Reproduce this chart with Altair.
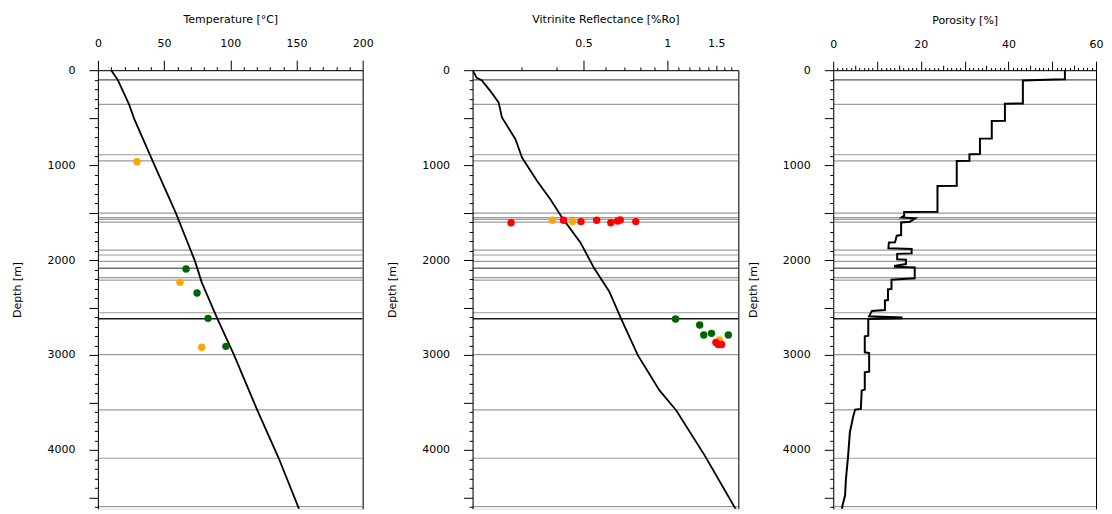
import altair as alt
import pandas as pd

# ---------------- data ----------------
# formation tops (depth m) and their category
top_depth = [102, 361, 891, 955, 1505, 1554, 1572, 1600, 1895, 1947, 2014,
             2086, 2186, 2211, 2555, 2618, 2997, 3579, 4088, 4597]
top_kind = ["medium", "thin", "thin", "thin", "thin", "thin", "thin", "thin",
            "thin", "thin", "thin", "thick", "thin", "thin", "thin", "bold",
            "thin", "thin", "thin", "thin"]

# temperature model curve
temp_depth = [0, 102, 361, 516, 955, 1505, 2014, 2235, 2618, 2997, 3579, 4088, 4656]
temp_value = [10, 15.0, 23.5, 27.5, 41.3, 58.9, 73.4, 78.4, 90.2, 102.7, 120.3, 136.6, 152.9]

# temperature measurements
tm_depth = [965, 2235, 2919, 2095, 2347, 2614, 2909]
tm_value = [29.5, 62.0, 78.4, 66.6, 74.9, 83.2, 96.7]
tm_set = ["Set A", "Set A", "Set A", "Set B", "Set B", "Set B", "Set B"]

# vitrinite reflectance model curve
vr_depth = [0, 81, 109, 215, 339, 497, 727, 921, 1167, 1362, 1556, 1820, 2085,
            2331, 2614, 3002, 3373, 3584, 4060, 4642]
vr_value = [0.200, 0.207, 0.216, 0.231, 0.248, 0.255, 0.285, 0.301, 0.341, 0.381,
            0.420, 0.489, 0.546, 0.619, 0.682, 0.784, 0.938, 1.078, 1.364, 1.776]

# vitrinite reflectance measurements
vm_depth = [1608, 1580, 1580, 1595, 1595, 1580, 1608, 1590, 1577, 1595,
            2621, 2685, 2790, 2772, 2790, 2843, 2868, 2889, 2889]
vm_value = [0.275, 0.387, 0.424, 0.457, 0.490, 0.558, 0.627, 0.663, 0.678, 0.771,
            1.071, 1.308, 1.353, 1.442, 1.657, 1.538, 1.495, 1.525, 1.567]
vm_set = ["Set C", "Set A", "Set C", "Set A", "Set C", "Set C", "Set C", "Set C", "Set C", "Set C",
          "Set B", "Set B", "Set B", "Set B", "Set B", "Set A", "Set C", "Set C", "Set C"]

# porosity profile
por_depth = [0, 95, 97, 108, 351, 353, 533, 535, 719, 721, 884, 886, 955, 957, 1218, 1220,
             1491, 1493, 1533, 1551, 1561, 1596, 1604, 1737, 1744, 1814, 1816, 1877, 1884,
             1930, 1935, 1992, 1997, 2042, 2060, 2070, 2077, 2193, 2207, 2305, 2310, 2421,
             2425, 2526, 2537, 2593, 2606, 2614, 2621, 2796, 2803, 2972, 2979, 3175, 3182,
             3365, 3375, 3568, 3575, 3639, 3814, 4060, 4305, 4481, 4586, 4656]
por_value = [52.9, 52.9, 50.6, 43.3, 43.3, 39.2, 39.2, 36.2, 36.2, 33.5, 33.5, 31.1, 31.1,
             28.2, 28.2, 23.8, 23.8, 16.2, 16.2, 15.6, 18.7, 17.5, 15.5, 15.5, 14.5, 14.1,
             12.7, 12.6, 17.9, 17.9, 14.6, 14.6, 16.6, 16.6, 14.1, 14.1, 18.6, 18.6, 13.3,
             13.3, 12.5, 12.5, 11.8, 11.8, 8.8, 8.2, 15.6, 15.6, 8.0, 8.0, 7.2, 7.2, 8.2,
             8.2, 7.2, 7.2, 6.5, 6.3, 5.0, 4.6, 3.8, 3.4, 2.9, 2.7, 2.1, 1.9]

# axis tick values (all ticks; labels / long ticks chosen by rule below)
temp_ticks = list(range(0, 201, 10))
vr_ticks = [0.3, 0.4, 0.5, 0.6, 0.7, 0.8, 0.9, 1, 1.1, 1.2, 1.3, 1.4, 1.5, 1.6, 1.7]
por_ticks = list(range(0, 61, 1))
depth_ticks = list(range(0, 4601, 100))

# ---------------- layout / style ----------------
FONT = "DejaVu Sans"
H = 439
DEPTH_MAX = 4620
KINDS = ["thin", "medium", "thick", "bold"]
KIND_COLORS = ["#9a9a9a", "#555555", "#707070", "#1a1a1a"]
KIND_WIDTHS = [1.2, 1.5, 3.2, 3.2]
SET_DOMAIN = ["Set A", "Set B", "Set C"]
SET_COLORS = ["#ffa500", "#006400", "#ff0000"]

tops_df = pd.DataFrame({"depth": top_depth, "kind": top_kind})


def yscale():
    return alt.Scale(domain=[0, DEPTH_MAX], reverse=True, nice=False, zero=False)


def axis_common():
    return dict(grid=False, domainColor="black", tickColor="black", labelFont=FONT,
                titleFont=FONT, labelFontSize=11, titleFontSize=11, titleFontWeight="normal",
                labelColor="black", titleColor="black", domainWidth=1, tickWidth=1,
                labelFlush=False, labelOverlap=False, zindex=1)


def cond(rules, default):
    conds = [{"test": t, "value": v} for t, v in rules]
    return {"condition": conds if len(conds) > 1 else conds[0], "value": default}


def y_major():
    return alt.Axis(orient="left", values=depth_ticks, format="d",
                    labelExpr="datum.value % 1000 == 0 ? datum.label : ''",
                    tickSize=cond([("datum.value % 500 == 0", 9)], 3.5),
                    labelPadding=14, minExtent=52, maxExtent=52,
                    title="Depth [m]", titlePadding=23, **axis_common())


def y_border():
    return alt.Axis(orient="right", labels=False, ticks=False, title=None,
                    minExtent=0, maxExtent=0, **axis_common())


def x_axis(values, title, size_rules, default_size, label_expr, fmt=None, pad_rules=None):
    kw = dict(orient="top", values=values, tickSize=cond(size_rules, default_size),
              labelPadding=cond(pad_rules, 12) if pad_rules else 12,
              title=title, titlePadding=13, labelExpr=label_expr, **axis_common())
    if fmt:
        kw["format"] = fmt
    return alt.Axis(**kw)


def tops_layer():
    return alt.Chart(tops_df).mark_rule(clip=True).encode(
        y=alt.Y("depth:Q", scale=yscale(), axis=y_border()),
        color=alt.Color("kind:N", scale=alt.Scale(domain=KINDS, range=KIND_COLORS), legend=None),
        strokeWidth=alt.StrokeWidth("kind:N", scale=alt.Scale(domain=KINDS, range=KIND_WIDTHS), legend=None),
    )


# ---------------- panel 1: temperature ----------------
t_scale = alt.Scale(domain=[0, 200], nice=False, zero=False)
temp_df = pd.DataFrame({"depth": temp_depth, "value": temp_value, "i": range(len(temp_depth))})
tm_df = pd.DataFrame({"depth": tm_depth, "value": tm_value, "set": tm_set})

p1 = alt.layer(
    tops_layer(),
    alt.Chart(temp_df).mark_line(color="black", strokeWidth=1.8, clip=True).encode(
        x=alt.X("value:Q", scale=t_scale,
                axis=x_axis(temp_ticks, "Temperature [°C]",
                            [("datum.value % 50 == 0", 10)], 3.5,
                            "datum.value % 50 == 0 ? datum.label : ''")),
        y=alt.Y("depth:Q", scale=yscale(), axis=y_major()),
        order="i:Q",
    ),
    alt.Chart(tm_df).mark_circle(size=55, opacity=1).encode(
        x=alt.X("value:Q", scale=t_scale, axis=None),
        y=alt.Y("depth:Q", scale=yscale(), axis=None),
        color=alt.Color("set:N", scale=alt.Scale(domain=SET_DOMAIN, range=SET_COLORS), legend=None),
    ),
).resolve_axis(x="independent", y="independent").resolve_scale(
    color="independent").properties(width=265, height=H)

# ---------------- panel 2: vitrinite reflectance ----------------
v_scale = alt.Scale(type="log", domain=[0.2, 1.8], nice=False, zero=False)
vr_df = pd.DataFrame({"depth": vr_depth, "value": vr_value, "i": range(len(vr_depth))})
vm_df = pd.DataFrame({"depth": vm_depth, "value": vm_value, "set": vm_set})

p2 = alt.layer(
    tops_layer(),
    alt.Chart(vr_df).mark_line(color="black", strokeWidth=1.8, clip=True).encode(
        x=alt.X("value:Q", scale=v_scale,
                axis=x_axis(vr_ticks, "Vitrinite Reflectance [%Ro]",
                            [("datum.value == 0.5 || datum.value == 1", 10),
                             ("datum.value == 1.5", 5)], 3.3,
                            "(datum.value == 0.5 || datum.value == 1 || datum.value == 1.5) ? datum.label : ''",
                            fmt="~g", pad_rules=[("datum.value == 1.5", 17)])),
        y=alt.Y("depth:Q", scale=yscale(), axis=y_major()),
        order="i:Q",
    ),
    alt.Chart(vm_df).mark_circle(size=55, opacity=1).encode(
        x=alt.X("value:Q", scale=v_scale, axis=None),
        y=alt.Y("depth:Q", scale=yscale(), axis=None),
        color=alt.Color("set:N", scale=alt.Scale(domain=SET_DOMAIN, range=SET_COLORS), legend=None),
    ),
).resolve_axis(x="independent", y="independent").resolve_scale(
    color="independent").properties(width=266, height=H)

# ---------------- panel 3: porosity ----------------
p_scale = alt.Scale(domain=[0, 60], nice=False, zero=False)
por_df = pd.DataFrame({"depth": por_depth, "value": por_value, "i": range(len(por_depth))})

p3 = alt.layer(
    tops_layer(),
    alt.Chart(por_df).mark_line(color="black", strokeWidth=2, clip=True).encode(
        x=alt.X("value:Q", scale=p_scale,
                axis=x_axis(por_ticks, "Porosity [%]",
                            [("datum.value % 10 == 0", 9), ("datum.value % 5 == 0", 5)], 2.7,
                            "datum.value % 20 == 0 ? datum.label : ''")),
        y=alt.Y("depth:Q", scale=yscale(), axis=y_major()),
        order="i:Q",
    ),
).resolve_axis(x="independent", y="independent").properties(width=263, height=H)

chart = alt.hconcat(
    alt.hconcat(p1, p2, spacing=12),
    p3,
    spacing=7,
).properties(
    padding={"left": 3, "top": 4, "right": 0, "bottom": 0}
).configure_view(stroke=None).configure(font=FONT)

chart.save("out.html", embed_options={"renderer": "svg", "actions": False})
